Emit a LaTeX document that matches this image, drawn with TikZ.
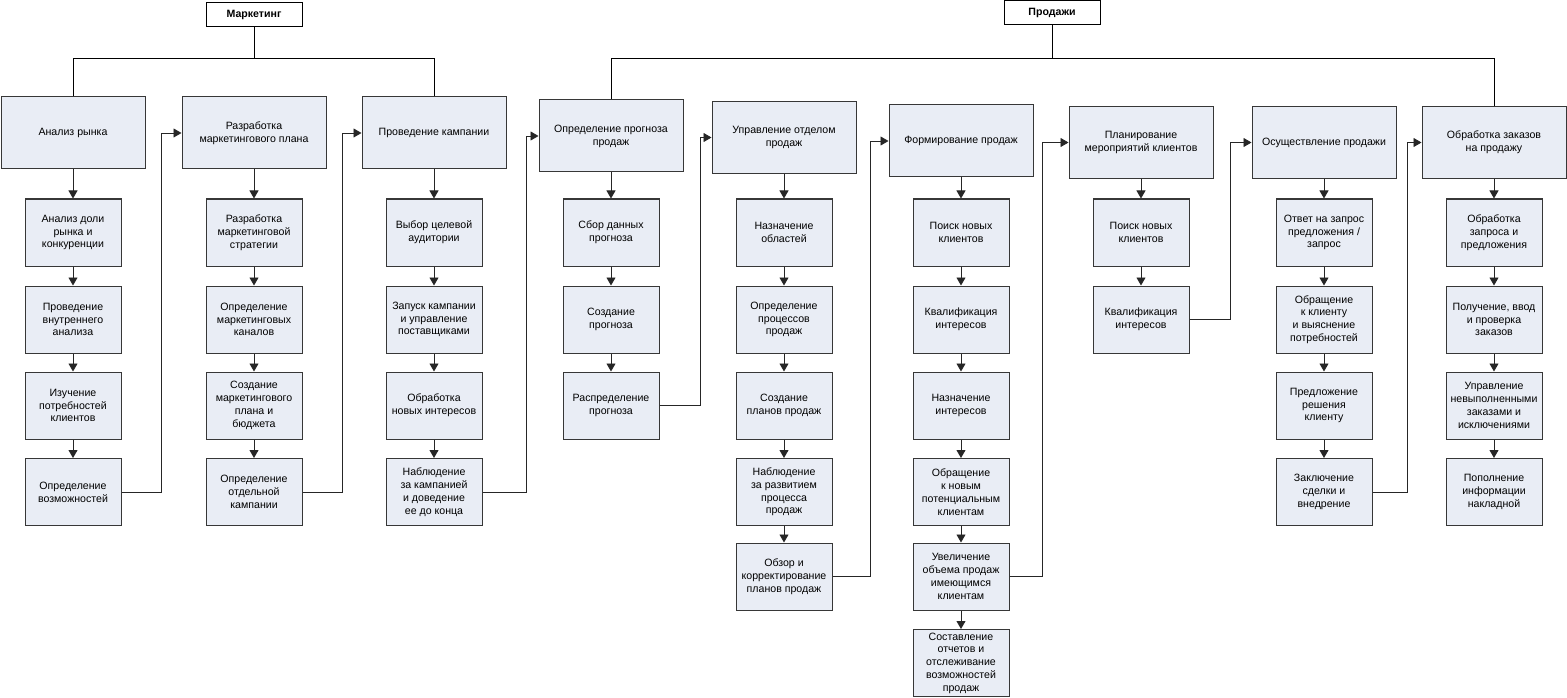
\documentclass[tikz,border=0pt]{standalone}
\usepackage{fontspec}
\setmainfont{Liberation Sans}
\usetikzlibrary{arrows.meta,positioning}
\definecolor{fond}{RGB}{233,237,245}
\definecolor{trait}{RGB}{55,55,55}

\begin{document}
\begin{tikzpicture}[x=1pt,y=-1pt,
  tete/.style={draw=black,fill=white,line width=1pt,minimum width=96pt,minimum height=24pt,inner sep=0pt,font=\fontsize{10.6}{12.8}\selectfont\bfseries},
  etape/.style={draw=trait,fill=fond,line width=1pt,minimum width=144pt,minimum height=72pt,inner sep=0pt,align=center,font=\fontsize{10.6}{12.8}\selectfont},
  tache/.style={etape,minimum width=96pt,minimum height=67pt},
  fleche/.style={black!85,line width=0.9pt,-{Triangle[length=8pt,width=9pt]}},
  lien/.style={black,line width=0.9pt}]
\useasboundingbox (0,0) rectangle (1567,698);

% titres
\node[tete] (mk) at(254,15) {Маркетинг};
\node[tete] (pr) at(1052,13) {Продажи};

% marketing
\node[etape] (m1) at(73,133) {Анализ рынка};
\node[etape] (m2) at(254,133) {Разработка\\маркетингового плана};
\node[etape] (m3) at(434,133) {Проведение кампании};

\node[tache] (m11) at(73,232.5) {Анализ доли\\рынка и\\конкуренции};
\node[tache] (m12) at(73,319.5) {Проведение\\внутреннего\\анализа};
\node[tache] (m13) at(73,405.5) {Изучение\\потребностей\\клиентов};
\node[tache] (m14) at(73,492) {Определение\\возможностей};

\node[tache] (m21) at(254,232.5) {Разработка\\маркетинговой\\стратегии};
\node[tache] (m22) at(254,319.5) {Определение\\маркетинговых\\каналов};
\node[tache] (m23) at(254,405.5) {Создание\\маркетингового\\плана и\\бюджета};
\node[tache] (m24) at(254,492) {Определение\\отдельной\\кампании};

\node[tache] (m31) at(434,232.5) {Выбор целевой\\аудитории};
\node[tache] (m32) at(434,319.5) {Запуск кампании\\и управление\\поставщиками};
\node[tache] (m33) at(434,405.5) {Обработка\\новых интересов};
\node[tache] (m34) at(434,492) {Наблюдение\\за кампанией\\и доведение\\ее до конца};

% продажи
\node[etape] (s1) at(611,136) {Определение прогноза\\продаж};
\node[etape] (s2) at(784,137.5) {Управление отделом\\продаж};
\node[etape] (s3) at(961,141) {Формирование продаж};
\node[etape] (s4) at(1141,142.5) {Планирование\\мероприятий клиентов};
\node[etape] (s5) at(1324,142.5) {Осуществление продажи};
\node[etape] (s6) at(1494,142.5) {Обработка заказов\\на продажу};

\node[tache] (s11) at(611,232.5) {Сбор данных\\прогноза};
\node[tache] (s12) at(611,319.5) {Создание\\прогноза};
\node[tache] (s13) at(611,405.5) {Распределение\\прогноза};

\node[tache] (s21) at(784,232.5) {Назначение\\областей};
\node[tache] (s22) at(784,319.5) {Определение\\процессов\\продаж};
\node[tache] (s23) at(784,405.5) {Создание\\планов продаж};
\node[tache] (s24) at(784,492) {Наблюдение\\за развитием\\процесса\\продаж};
\node[tache] (s25) at(784,576.5) {Обзор и\\корректирование\\планов продаж};

\node[tache] (s31) at(961,232.5) {Поиск новых\\клиентов};
\node[tache] (s32) at(961,319.5) {Квалификация\\интересов};
\node[tache] (s33) at(961,405.5) {Назначение\\интересов};
\node[tache] (s34) at(961,492) {Обращение\\к новым\\потенциальным\\клиентам};
\node[tache] (s35) at(961,576.5) {Увеличение\\объема продаж\\имеющимся\\клиентам};
\node[tache] (s36) at(961,663) {Составление\\отчетов и\\отслеживание\\возможностей\\продаж};

\node[tache] (s41) at(1141,232.5) {Поиск новых\\клиентов};
\node[tache] (s42) at(1141,319.5) {Квалификация\\интересов};

\node[tache] (s51) at(1324,232.5) {Ответ на запрос\\предложения /\\запрос};
\node[tache] (s52) at(1324,319.5) {Обращение\\к клиенту\\и выяснение\\потребностей};
\node[tache] (s53) at(1324,405.5) {Предложение\\решения\\клиенту};
\node[tache] (s54) at(1324,492) {Заключение\\сделки и\\внедрение};

\node[tache] (s61) at(1494,232.5) {Обработка\\запроса и\\предложения};
\node[tache] (s62) at(1494,319.5) {Получение, ввод\\и проверка\\заказов};
\node[tache] (s63) at(1494,405.5) {Управление\\невыполненными\\заказами и\\исключениями};
\node[tache] (s64) at(1494,492) {Пополнение\\информации\\накладной};

% liaisons titres
\coordinate (bm) at(254,58);
\coordinate (bp) at(1052,58);
\draw[lien] (mk) -- (bm);
\draw[lien] (m1.north) -- (m1.north |- bm) -- (m3.north |- bm) -- (m3.north);
\draw[lien] (pr) -- (bp);
\draw[lien] (s1.north) -- (s1.north |- bp) -- (s6.north |- bp) -- (s6.north);

% fleches colonnes
\draw[fleche] (m1) -- (m11);
\draw[fleche] (m11) -- (m12);
\draw[fleche] (m12) -- (m13);
\draw[fleche] (m13) -- (m14);
\draw[fleche] (m2) -- (m21);
\draw[fleche] (m21) -- (m22);
\draw[fleche] (m22) -- (m23);
\draw[fleche] (m23) -- (m24);
\draw[fleche] (m3) -- (m31);
\draw[fleche] (m31) -- (m32);
\draw[fleche] (m32) -- (m33);
\draw[fleche] (m33) -- (m34);
\draw[fleche] (s1) -- (s11);
\draw[fleche] (s11) -- (s12);
\draw[fleche] (s12) -- (s13);
\draw[fleche] (s2) -- (s21);
\draw[fleche] (s21) -- (s22);
\draw[fleche] (s22) -- (s23);
\draw[fleche] (s23) -- (s24);
\draw[fleche] (s24) -- (s25);
\draw[fleche] (s3) -- (s31);
\draw[fleche] (s31) -- (s32);
\draw[fleche] (s32) -- (s33);
\draw[fleche] (s33) -- (s34);
\draw[fleche] (s34) -- (s35);
\draw[fleche] (s35) -- (s36);
\draw[fleche] (s4) -- (s41);
\draw[fleche] (s41) -- (s42);
\draw[fleche] (s5) -- (s51);
\draw[fleche] (s51) -- (s52);
\draw[fleche] (s52) -- (s53);
\draw[fleche] (s53) -- (s54);
\draw[fleche] (s6) -- (s61);
\draw[fleche] (s61) -- (s62);
\draw[fleche] (s62) -- (s63);
\draw[fleche] (s63) -- (s64);

% retours vers l'etape suivante
\coordinate (k1) at(161,0);
\coordinate (k2) at(342,0);
\coordinate (k3) at(526,0);
\coordinate (k4) at(700,0);
\coordinate (k5) at(870,0);
\coordinate (k6) at(1042,0);
\coordinate (k7) at(1230,0);
\coordinate (k8) at(1407,0);
\draw[fleche] (m14.east) -- (m14.east -| k1) |- (m2.west);
\draw[fleche] (m24.east) -- (m24.east -| k2) |- (m3.west);
\draw[fleche] (m34.east) -- (m34.east -| k3) |- (s1.west);
\draw[fleche] (s13.east) -- (s13.east -| k4) |- (s2.west);
\draw[fleche] (s25.east) -- (s25.east -| k5) |- (s3.west);
\draw[fleche] (s35.east) -- (s35.east -| k6) |- (s4.west);
\draw[fleche] (s42.east) -- (s42.east -| k7) |- (s5.west);
\draw[fleche] (s54.east) -- (s54.east -| k8) |- (s6.west);

\end{tikzpicture}
\end{document}
